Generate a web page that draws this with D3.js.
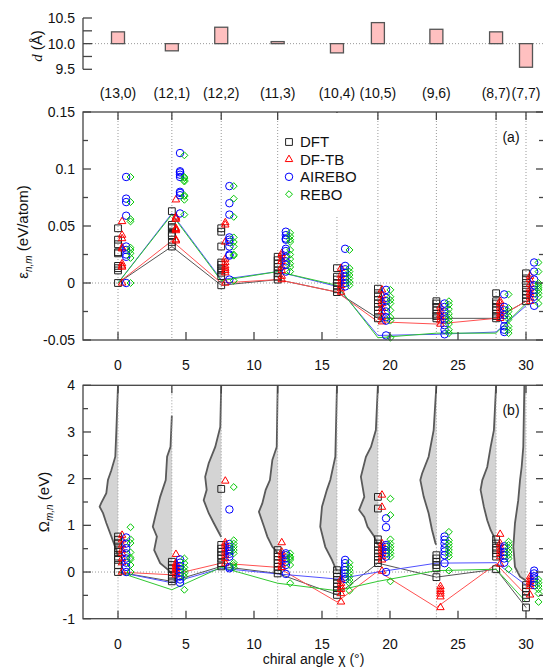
<!DOCTYPE html>
<html lang="en">
<head>
<meta charset="UTF-8">
<title>Chiral angle</title>
<script src="https://d3js.org/d3.v7.min.js"></script>
<style>
    body { margin: 0; background: white; }
    svg { display: block; }
    text {
        font-family: 'Liberation Sans', Arial, sans-serif;
        font-size: 14px;
        fill: #111;
    }
    .frame { fill: none; stroke: #444; stroke-width: 1.3; }
    .tick { stroke: #444; stroke-width: 1.3; }
    .dotted { stroke: #999; stroke-width: 1; stroke-dasharray: 1,2; fill: none; }
</style>
</head>
<body>
<script>
    const width = 543;
    const height = 672;

    // tubes and chiral angles (degrees)
    const tubes = ["(13,0)", "(12,1)", "(12,2)", "(11,3)", "(10,4)", "(10,5)", "(9,6)", "(8,7)", "(7,7)"];
    const chiral = [0, 3.96, 7.59, 11.74, 16.10, 19.11, 23.41, 27.80, 30];
    const diameter = [10.23, 9.86, 10.32, 10.04, 9.82, 10.41, 10.28, 10.23, 9.54];

    const seriesNames = ["DFT", "DF-TB", "AIREBO", "REBO"];

    // panel (a): epsilon (eV/atom), one list per tube
    const epsDFT = [
        [0, 0.011, 0.013, 0.015, 0.026, 0.027, 0.034, 0.038, 0.048],
        [0.032, 0.036, 0.041, 0.042, 0.044, 0.048, 0.049, 0.051, 0.063],
        [-0.002, 0.006, 0.009, 0.011, 0.013, 0.016, 0.018, 0.032, 0.045, 0.048],
        [0.003, 0.0055, 0.0085, 0.011, 0.014, 0.017, 0.020, 0.023],
        [-0.008, -0.0055, -0.003, 0.0, 0.003, 0.0055, 0.013],
        [-0.031, -0.027, -0.024, -0.021, -0.018, -0.015, -0.012, -0.009, -0.005],
        [-0.031, -0.029, -0.027, -0.024, -0.021, -0.018, -0.016],
        [-0.031, -0.029, -0.027, -0.024, -0.021, -0.018, -0.016, -0.009],
        [-0.016, -0.013, -0.0105, -0.0076, -0.004, 0.0, 0.004, 0.0085]
    ];
    const epsDFTB = [
        [0, 0.014, 0.015, 0.017, 0.030, 0.031, 0.039, 0.042, 0.054],
        [0.037, 0.038, 0.046, 0.047, 0.048, 0.056, 0.057, 0.058, 0.073],
        [0.0, 0.009, 0.011, 0.013, 0.015, 0.018, 0.021, 0.036, 0.051, 0.053],
        [0.003, 0.006, 0.011, 0.014, 0.019, 0.021, 0.024, 0.026],
        [-0.008, -0.005, -0.002, 0.001, 0.004, 0.007, 0.013],
        [-0.034, -0.030, -0.025, -0.022, -0.018, -0.015, -0.011, -0.006],
        [-0.036, -0.0325, -0.030, -0.028, -0.025, -0.021],
        [-0.031, -0.029, -0.027, -0.024, -0.021, -0.018, -0.016],
        [-0.016, -0.013, -0.010, -0.008, -0.005, -0.001, 0.003, 0.006]
    ];
    const epsAIREBO = [
        [0, 0.023, 0.025, 0.029, 0.032, 0.059, 0.071, 0.074, 0.093],
        [0.061, 0.077, 0.079, 0.080, 0.093, 0.095, 0.097, 0.098, 0.114],
        [0.003, 0.024, 0.025, 0.032, 0.036, 0.038, 0.040, 0.060, 0.070, 0.085],
        [0.010, 0.016, 0.019, 0.023, 0.028, 0.030, 0.038, 0.039, 0.042, 0.045],
        [-0.003, 0.0, 0.003, 0.0055, 0.009, 0.012, 0.015, 0.030],
        [-0.046, -0.033, -0.030, -0.025, -0.021, -0.016, -0.013, -0.006],
        [-0.045, -0.041, -0.037, -0.032, -0.029, -0.025, -0.021, -0.018],
        [-0.043, -0.041, -0.038, -0.032, -0.028, -0.024, -0.021, -0.010],
        [-0.020, -0.012, -0.009, -0.006, -0.002, 0.003, 0.010, 0.018]
    ];
    const epsREBO = [
        [0, 0.022, 0.026, 0.029, 0.031, 0.054, 0.056, 0.071, 0.093],
        [0.060, 0.073, 0.076, 0.077, 0.089, 0.090, 0.092, 0.093, 0.112],
        [0.002, 0.024, 0.025, 0.032, 0.036, 0.040, 0.058, 0.074, 0.085],
        [0.010, 0.014, 0.017, 0.021, 0.025, 0.029, 0.036, 0.038, 0.041, 0.044],
        [-0.002, 0.001, 0.004, 0.007, 0.010, 0.013, 0.029],
        [-0.048, -0.033, -0.030, -0.024, -0.018, -0.015, -0.012, -0.006],
        [-0.044, -0.041, -0.036, -0.033, -0.030, -0.027, -0.023, -0.019, -0.016],
        [-0.044, -0.041, -0.038, -0.032, -0.029, -0.025, -0.022, -0.010],
        [-0.018, -0.012, -0.009, -0.006, -0.004, -0.002, 0.0, 0.010, 0.018]
    ];

    // panel (b): Omega (eV), one list per tube
    const omegaDFT = [
        [0, 0.15, 0.26, 0.33, 0.43, 0.51, 0.61, 0.69, 0.76],
        [-0.2, -0.15, -0.08, 0.0, 0.08, 0.15, 0.22],
        [0.12, 0.19, 0.29, 0.36, 0.43, 0.5, 0.58, 1.78],
        [-0.03, 0.04, 0.11, 0.19, 0.26, 0.33, 0.4, 0.47],
        [-0.49, -0.4, -0.31, -0.24, -0.17, -0.1, -0.03, 0.04],
        [0.19, 0.26, 0.33, 0.4, 0.46, 0.54, 0.61, 0.7, 1.36, 1.61],
        [-0.11, 0.08, 0.15, 0.22, 0.29, 0.36],
        [0.06, 0.33, 0.4, 0.47, 0.52, 0.61, 0.7],
        [-0.76, -0.56, -0.49, -0.42, -0.35, -0.28]
    ];
    const omegaDFTB = [
        [0, 0.2, 0.29, 0.4, 0.47, 0.58, 0.69, 0.79],
        [-0.06, -0.01, 0.04, 0.08, 0.11, 0.15, 0.19, 0.38],
        [0.19, 0.29, 0.36, 0.43, 0.51, 0.58, 0.63, 1.95],
        [0.1, 0.15, 0.22, 0.29, 0.36, 0.43, 0.63],
        [-0.64, -0.46, -0.37, -0.31, -0.24, -0.16],
        [0.02, 0.26, 0.33, 0.4, 0.47, 0.54, 0.61, 1.39, 1.65],
        [-0.76, -0.53, -0.47, -0.42, -0.37, -0.31],
        [0.17, 0.33, 0.4, 0.47, 0.54, 0.61, 0.81],
        [-0.49, -0.31, -0.26, -0.21, -0.16, -0.1]
    ];
    const omegaAIREBO = [
        [0, 0.11, 0.2, 0.29, 0.4, 0.51, 0.61, 0.74],
        [-0.23, -0.16, -0.09, -0.01, 0.06, 0.13, 0.2, 0.27],
        [0.08, 0.11, 0.33, 0.39, 0.44, 0.49, 0.54, 0.6, 1.34],
        [-0.04, 0.15, 0.22, 0.29, 0.36, 0.4],
        [-0.15, -0.1, -0.03, 0.04, 0.11, 0.19, 0.26],
        [0.0, 0.33, 0.4, 0.47, 0.54, 0.58, 0.96, 1.15],
        [0.19, 0.36, 0.44, 0.51, 0.61, 0.69, 0.76],
        [0.2, 0.29, 0.36, 0.43, 0.51, 0.55],
        [-0.28, -0.21, -0.14, -0.09, -0.03, 0.03]
    ];
    const omegaREBO = [
        [0, 0.15, 0.27, 0.31, 0.42, 0.62, 0.7, 0.96],
        [-0.38, -0.1, -0.03, 0.03, 0.1, 0.19, 0.29],
        [0.1, 0.15, 0.2, 0.4, 0.47, 0.54, 0.61, 0.68, 1.82],
        [-0.24, 0.15, 0.26, 0.3, 0.33, 0.4],
        [-0.4, -0.24, -0.17, -0.1, -0.03, 0.04, 0.11, 0.2],
        [-0.2, 0.33, 0.4, 0.47, 0.54, 0.61, 0.7, 1.22, 1.57],
        [0.03, 0.33, 0.4, 0.47, 0.54, 0.61, 0.68, 0.86],
        [0.06, 0.29, 0.36, 0.43, 0.51, 0.58, 0.65],
        [-0.64, -0.46, -0.37, -0.3, -0.23, -0.16]
    ];

    // grey distributions in panel (b): Omega levels and widths (degrees)
    const profOmega = [
        [4, 3.04, 2.47, 2.18, 1.97, 1.69, 1.48, 1.40, 1.26, 1.05, 0.76, 0.47, 0.33],
        [3.35, 2.68, 2.47, 1.97, 1.61, 1.18, 0.97, 0.76, 0.47, 0.19, 0.04, -0.05],
        [4, 3.11, 2.68, 2.33, 2.04, 1.76, 1.54, 1.26, 1.05, 0.83, 0.75],
        [4, 2.68, 2.4, 1.97, 1.76, 1.47, 1.29, 0.97, 0.76, 0.54, 0.43, 0.4],
        [4, 2.47, 1.97, 1.76, 1.4, 0.97, 0.54, 0.26, 0.09, 0.03],
        [4, 3.04, 2.68, 2.47, 2.04, 1.61, 1.33, 1.18, 0.97, 0.76, 0.62, 0.58],
        [4, 3.04, 2.47, 2.11, 1.97, 1.61, 1.26, 0.9, 0.62, 0.58],
        [4, 3.04, 2.68, 2.25, 1.97, 1.76, 1.4, 1.11, 0.9, 0.76, 0.62, 0.58],
        [4, 2.68, 2.25, 1.97, 1.54, 1.05, 0.54, 0.11, -0.1, -0.17, -0.2]
    ];
    const profWidth = [
        [0, 0.12, 0.2, 0.49, 0.74, 0.86, 1.23, 1.35, 1.1, 0.86, 0.49, 0.12, 0],
        [0, 0.1, 0.35, 0.45, 0.86, 1.23, 1.4, 1.1, 1.3, 0.86, 0.25, 0],
        [0, 0.07, 0.44, 0.92, 1.18, 1.07, 1.29, 0.92, 0.55, 0.15, 0],
        [0, 0.07, 0.39, 0.57, 0.88, 1.13, 1.38, 1.0, 0.76, 0.39, 0.07, 0],
        [0, 0.12, 0.49, 0.74, 1.1, 1.23, 0.86, 0.37, 0.12, 0],
        [0, 0.15, 0.51, 0.88, 1.25, 1.0, 1.38, 1.0, 0.76, 0.27, 0.07, 0],
        [0, 0.2, 0.57, 1.05, 1.18, 0.93, 0.57, 0.32, 0.07, 0],
        [0, 0.16, 0.4, 0.65, 1.01, 1.14, 0.9, 0.65, 0.4, 0.16, 0.04, 0],
        [0.12, 0.2, 0.32, 0.44, 0.57, 0.81, 0.93, 0.81, 0.44, 0.07, 0]
    ];

    // ticks
    const xTicks = [0, 5, 10, 15, 20, 25, 30];
    const dTicks = [9.5, 9.75, 10, 10.25, 10.5];
    const dTickLabels = ["9.5", "", "10.0", "", "10.5"];
    const epsTicks = [-0.05, -0.025, 0, 0.025, 0.05, 0.075, 0.1, 0.125, 0.15];
    const epsTickLabels = ["-0.05", "", "0", "", "0.05", "", "0.1", "", "0.15"];
    const omegaTicks = [-1, -0.5, 0, 0.5, 1, 1.5, 2, 2.5, 3, 3.5, 4];
    const omegaTickLabels = ["-1", "", "0", "", "1", "", "2", "", "3", "", "4"];

    // styles
    const colors = ["#222222", "#ff0000", "#0000ff", "#00c800"];
    const lineColors = ["#555555", "#ff5050", "#5050ff", "#30c830"];
    const offsets = [0, 0.3, 0.6, 0.92];

    const diamond = {
        draw(ctx, size) {
            const r = Math.sqrt(size / 2);
            ctx.moveTo(0, -r); ctx.lineTo(r, 0); ctx.lineTo(0, r); ctx.lineTo(-r, 0); ctx.closePath();
        }
    };
    const symbols = [
        d3.symbol().type(d3.symbolSquare).size(46),
        d3.symbol().type(d3.symbolTriangle).size(24),
        d3.symbol().type(d3.symbolCircle).size(44),
        d3.symbol().type(diamond).size(24)
    ];

    const frameL = 83, frameR = 544;
    const x = d3.scaleLinear().domain([0, 30]).range([118, 526]);
    const yD = d3.scaleLinear().domain([9.5, 10.5]).range([69.3, 18]);
    const yE = d3.scaleLinear().domain([-0.05, 0.15]).range([340, 112]);
    const yO = d3.scaleLinear().domain([-1, 4]).range([618.7, 385.3]);
    const degPx = x(1) - x(0);

    const svg = d3.select("body").append("svg").attr("width", width).attr("height", height);

    // ---------- top panel: diameters ----------
    const topG = svg.append("g");
    topG.append("line").attr("class", "dotted")
        .attr("x1", frameL).attr("x2", width).attr("y1", yD(10)).attr("y2", yD(10));
    topG.selectAll("rect").data(diameter).enter().append("rect")
        .attr("x", (d, i) => x(chiral[i]) - 6.5)
        .attr("width", 13)
        .attr("y", d => Math.min(yD(d), yD(10)))
        .attr("height", d => Math.max(1.5, Math.abs(yD(d) - yD(10))))
        .style("fill", "#ffc0c0").style("stroke", "#555").style("stroke-width", 1.3);
    topG.append("line").attr("class", "tick")
        .attr("x1", frameL).attr("x2", frameL).attr("y1", yD(9.5)).attr("y2", yD(10.5));
    topG.selectAll("line.dt").data(dTicks).enter().append("line").attr("class", "tick dt")
        .attr("x1", frameL).attr("x2", frameL + 9).attr("y1", d => yD(d)).attr("y2", d => yD(d));
    topG.selectAll("text.dl").data(dTicks).enter().append("text").attr("class", "dl")
        .attr("x", frameL - 8).attr("y", d => yD(d)).attr("dy", "0.35em")
        .attr("text-anchor", "end").text((d, i) => dTickLabels[i]);
    const dTitle = topG.append("text").attr("transform", "translate(42,46) rotate(-90)")
        .attr("text-anchor", "middle").style("font-size", "15px");
    dTitle.append("tspan").text("d").style("font-family", "'Liberation Serif', serif").style("font-style", "italic");
    dTitle.append("tspan").text(" (Å)");
    topG.selectAll("text.tube").data(tubes).enter().append("text").attr("class", "tube")
        .attr("x", (d, i) => x(chiral[i])).attr("y", 98)
        .attr("text-anchor", "middle").text(d => d);

    // ---------- generic panel ----------
    function panel(y, ticks, tickLabels, bySeries, tag, drawExtra) {
        const g = svg.append("g");
        const yTop = y.range()[1], yBot = y.range()[0];

        if (drawExtra) drawExtra(g, y);

        g.append("line").attr("class", "dotted")
            .attr("x1", frameL).attr("x2", frameR).attr("y1", y(0)).attr("y2", y(0));
        g.selectAll("line.vd").data(chiral).enter().append("line").attr("class", "dotted vd")
            .attr("x1", d => x(d)).attr("x2", d => x(d)).attr("y1", yTop).attr("y2", yBot);

        // minimum lines
        bySeries.forEach(function(vals, s) {
            const pts = chiral.map((c, i) => [x(c), y(d3.min(vals[i]))]);
            g.append("path").attr("d", d3.line()(pts))
                .style("fill", "none").style("stroke", lineColors[s]).style("stroke-width", 1);
        });

        // points
        bySeries.forEach(function(vals, s) {
            const flat = [];
            vals.forEach((list, i) => list.forEach(v => flat.push({c: chiral[i], v: v})));
            g.selectAll("path.p" + s).data(flat).enter().append("path").attr("class", "p" + s)
                .attr("d", symbols[s]())
                .attr("transform", d => `translate(${x(d.c + offsets[s])},${y(d.v)})`)
                .style("fill", "none").style("stroke", colors[s]).style("stroke-width", 1);
        });

        // frame and ticks
        g.append("rect").attr("class", "frame")
            .attr("x", frameL).attr("y", yTop).attr("width", frameR - frameL).attr("height", yBot - yTop);
        g.selectAll("line.yl").data(ticks).enter().append("line").attr("class", "tick yl")
            .attr("x1", frameL).attr("x2", (d, i) => frameL + (tickLabels[i] ? 8 : 5))
            .attr("y1", d => y(d)).attr("y2", d => y(d));
        g.selectAll("line.yr").data(ticks).enter().append("line").attr("class", "tick yr")
            .attr("x1", frameR).attr("x2", (d, i) => frameR - (tickLabels[i] ? 8 : 5))
            .attr("y1", d => y(d)).attr("y2", d => y(d));
        g.selectAll("text.ylab").data(ticks).enter().append("text").attr("class", "ylab")
            .attr("x", frameL - 8).attr("y", d => y(d)).attr("dy", "0.35em")
            .attr("text-anchor", "end").text((d, i) => tickLabels[i]);
        g.selectAll("line.xb").data(xTicks).enter().append("line").attr("class", "tick xb")
            .attr("x1", d => x(d)).attr("x2", d => x(d)).attr("y1", yBot).attr("y2", yBot - 8);
        g.selectAll("line.xt").data(chiral).enter().append("line").attr("class", "tick xt")
            .attr("x1", d => x(d)).attr("x2", d => x(d)).attr("y1", yTop).attr("y2", yTop + 8);
        g.selectAll("text.xlab").data(xTicks).enter().append("text").attr("class", "xlab")
            .attr("x", d => x(d)).attr("y", yBot + 30)
            .attr("text-anchor", "middle").text(d => d);
        g.append("text").attr("x", 511).attr("y", yTop + 30)
            .attr("text-anchor", "middle").text(tag);
        return g;
    }

    // ---------- panel (a) ----------
    const gA = panel(yE, epsTicks, epsTickLabels, [epsDFT, epsDFTB, epsAIREBO, epsREBO], "(a)", function(g, y) {});

    const legend = gA.append("g");
    legend.append("rect").attr("x", 282).attr("y", 113).attr("width", 78).attr("height", 102)
        .style("fill", "white");
    seriesNames.forEach(function(name, s) {
        const ly = 142 + s * 17.4;
        legend.append("path").attr("d", symbols[s]())
            .attr("transform", `translate(289,${ly})`)
            .style("fill", "none").style("stroke", colors[s]).style("stroke-width", 1);
        legend.append("text").attr("x", 300).attr("y", ly).attr("dy", "0.36em")
            .style("font-size", "15px").text(name);
    });

    const epsTitle = svg.append("text").attr("transform", "translate(28,232) rotate(-90)")
        .attr("text-anchor", "middle").style("font-size", "15px");
    epsTitle.append("tspan").text("ε");
    epsTitle.append("tspan").text("n,m").style("font-size", "10px").style("font-style", "italic").attr("dy", 4);
    epsTitle.append("tspan").text(" (eV/atom)").attr("dy", -4);

    // ---------- panel (b) ----------
    panel(yO, omegaTicks, omegaTickLabels, [omegaDFT, omegaDFTB, omegaAIREBO, omegaREBO], "(b)", function(g, y) {
        chiral.forEach(function(c, i) {
            const pts = profOmega[i].map((o, k) => ({o: o, w: profWidth[i][k]}));
            const area = d3.area()
                .y(d => y(d.o))
                .x0(x(c))
                .x1(d => x(c) - d.w * degPx);
            g.append("path").attr("d", area(pts)).style("fill", "#d4d4d4").style("stroke", "none");
            const edge = d3.line().x(d => x(c) - d.w * degPx).y(d => y(d.o));
            g.append("path").attr("d", edge(pts))
                .style("fill", "none").style("stroke", "#5a5a5a").style("stroke-width", 1.8);
        });
    });

    const omTitle = svg.append("text").attr("transform", "translate(49,502) rotate(-90)")
        .attr("text-anchor", "middle").style("font-size", "15px");
    omTitle.append("tspan").text("Ω");
    omTitle.append("tspan").text("m,n").style("font-size", "10px").style("font-style", "italic").attr("dy", 4);
    omTitle.append("tspan").text(" (eV)").attr("dy", -4);

    svg.append("text").attr("x", (frameL + frameR) / 2).attr("y", 664)
        .attr("text-anchor", "middle").text("chiral angle χ (°)");
</script>
</body>
</html>
